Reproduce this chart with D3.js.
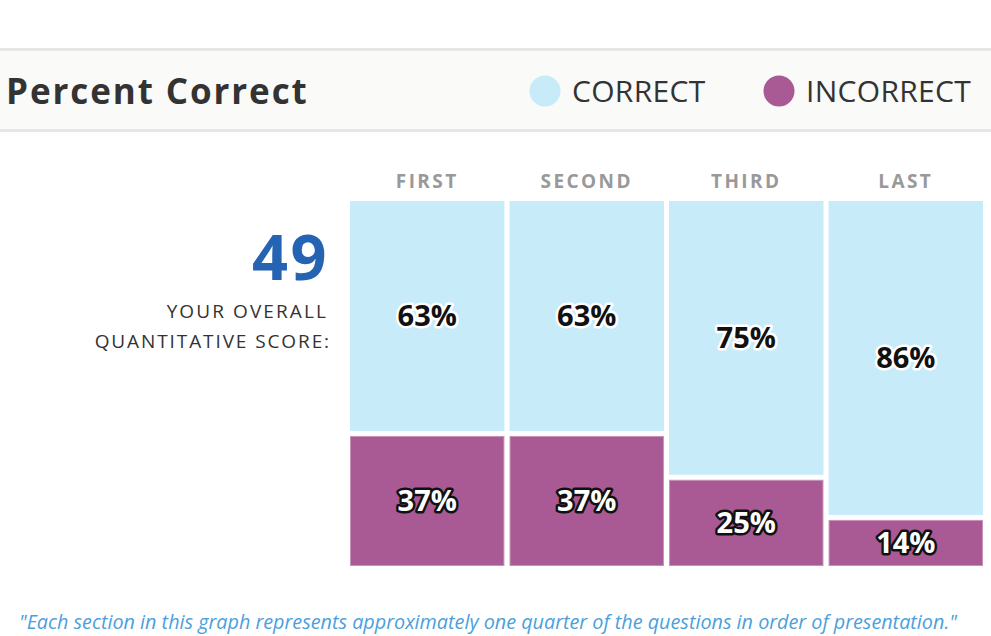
<!DOCTYPE html>
<html>
<head>
<meta charset="utf-8">
<script src="https://cdn.jsdelivr.net/npm/d3@7.9.0/dist/d3.min.js"></script>
<style>
  body { margin: 0; background: #fff; font-family: 'Open Sans', sans-serif; }
  svg { display: block; }
</style>
</head>
<body>
<svg id="chart" width="991" height="636"></svg>
<script>
const sections = ['FIRST', 'SECOND', 'THIRD', 'LAST'];
const correct = [63, 63, 75, 86];
const incorrect = [37, 37, 25, 14];
const score = 49;
const legendLabels = ['CORRECT', 'INCORRECT'];

const colCorrect = '#c7ebf9';
const colIncorrect = '#a95a95';

const svg = d3.select('#chart');

// header band
svg.append('rect').attr('x', 0).attr('y', 50).attr('width', 991).attr('height', 80)
  .attr('fill', '#fafaf8');
svg.append('rect').attr('x', 0).attr('y', 48).attr('width', 991).attr('height', 3).attr('fill', '#e6e6e6');
svg.append('rect').attr('x', 0).attr('y', 129).attr('width', 991).attr('height', 3).attr('fill', '#e6e6e6');

svg.append('text').attr('x', 6).attr('y', 104)
  .attr('font-size', 35).attr('font-weight', 700).attr('letter-spacing', 1.9)
  .attr('fill', '#333').text('Percent Correct');

let legend = svg.selectAll('.legend').data(legendLabels).enter().append('g')
  .attr('transform', (d, i) => `translate(${i === 0 ? 545 : 779},91)`);
legend.append('circle').attr('r', 15.5).attr('fill', (d, i) => i === 0 ? colCorrect : colIncorrect);
legend.append('text').attr('x', 27).attr('y', 11)
  .attr('font-size', 30).attr('letter-spacing', 0.3).attr('fill', '#333').text(d => d);

// score
svg.append('text').attr('x', 329).attr('y', 280).attr('text-anchor', 'end')
  .attr('font-size', 63).attr('font-weight', 700).attr('letter-spacing', 2.5)
  .attr('fill', '#2563b3').text(score);
svg.append('text').attr('x', 328).attr('y', 318).attr('text-anchor', 'end')
  .attr('font-size', 19).attr('letter-spacing', 2.1).attr('fill', '#333').text('YOUR OVERALL');
svg.append('text').attr('x', 331).attr('y', 348).attr('text-anchor', 'end')
  .attr('font-size', 19).attr('letter-spacing', 1.9).attr('fill', '#333').text('QUANTITATIVE SCORE:');

// bars
const x = d3.scaleBand().domain(sections).range([350, 983]).paddingInner(0.032);
const y = d3.scaleLinear().domain([0, 100]).range([201, 566]);
const gap = 5;

const data = sections.map((s, i) => ({ s, c: correct[i], w: incorrect[i] }));

svg.selectAll('.head').data(data).enter().append('text')
  .attr('x', d => x(d.s) + x.bandwidth() / 2).attr('y', 188)
  .attr('text-anchor', 'middle').attr('font-size', 19).attr('font-weight', 700)
  .attr('letter-spacing', 2.4).attr('fill', '#999').text(d => d.s);

svg.selectAll('.cbar').data(data).enter().append('rect')
  .attr('x', d => x(d.s)).attr('y', y(0))
  .attr('width', x.bandwidth()).attr('height', d => y(d.c) - y(0))
  .attr('fill', colCorrect);

svg.selectAll('.wbar').data(data).enter().append('rect')
  .attr('x', d => x(d.s) + 0.5).attr('y', d => y(d.c) + gap + 0.5)
  .attr('width', x.bandwidth() - 1).attr('height', d => y(100) - y(d.c) - gap - 1)
  .attr('fill', colIncorrect).attr('stroke', '#c792b9').attr('stroke-width', 1);

// labels
svg.selectAll('.clab').data(data).enter().append('text')
  .attr('x', d => x(d.s) + x.bandwidth() / 2).attr('y', d => (y(0) + y(d.c)) / 2 + 10)
  .attr('text-anchor', 'middle').attr('font-size', 29).attr('font-weight', 700)
  .attr('fill', '#111').attr('stroke', '#fff').attr('stroke-width', 5)
  .attr('paint-order', 'stroke').attr('stroke-linejoin', 'round')
  .text(d => d.c + '%');

svg.selectAll('.wlab').data(data).enter().append('text')
  .attr('x', d => x(d.s) + x.bandwidth() / 2).attr('y', d => (y(d.c) + gap + y(100)) / 2 + 10)
  .attr('text-anchor', 'middle').attr('font-size', 29).attr('font-weight', 700)
  .attr('fill', '#fff').attr('stroke', '#111').attr('stroke-width', 5)
  .attr('paint-order', 'stroke').attr('stroke-linejoin', 'round')
  .text(d => d.w + '%');

// footnote
svg.append('text').attr('x', 488).attr('y', 629).attr('text-anchor', 'middle')
  .attr('font-size', 19.8).attr('font-style', 'italic').attr('fill', '#4aa0dc')
  .text('"Each section in this graph represents approximately one quarter of the questions in order of presentation."');
</script>
</body>
</html>
